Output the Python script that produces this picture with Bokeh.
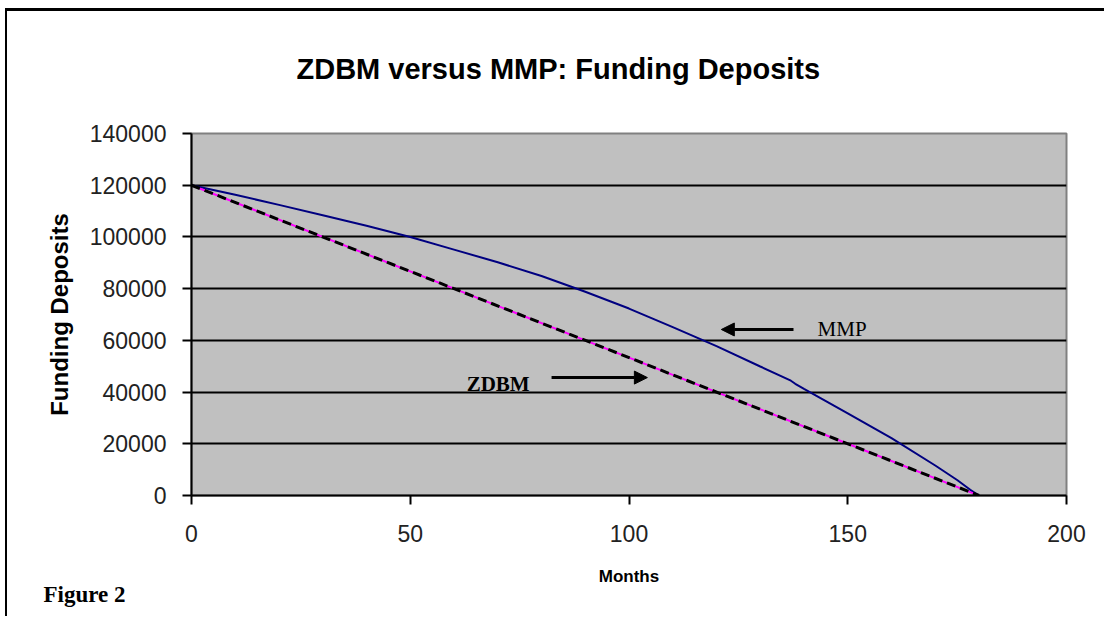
from bokeh.plotting import figure
from bokeh.models import (Range1d, FixedTicker, BasicTickFormatter, Label, Arrow,
                          NormalHead, Title)
from bokeh.embed import file_html
from bokeh.resources import INLINE

# ---- data ----
months_mmp = [0, 10, 20, 30, 40, 50, 60, 70, 80, 90, 100, 110, 120, 130, 137, 138,
              140, 150, 160, 170, 175, 178, 180]
mmp = [120000, 116300, 112400, 108400, 104300, 100000, 95100, 90200, 84900, 78800,
       72300, 65100, 57800, 49900, 44400, 43200, 41200, 31800, 22200, 11600, 6000, 2200, 0]
months_zdbm = [0, 30, 60, 90, 120, 150, 178, 180]
zdbm = [120000, 100000, 80000, 60000, 40000, 20000, 1300, 0]
zdbm_trend_x = [0, 180]
zdbm_trend_y = [120000, 0]
x_ticks = [0, 50, 100, 150, 200]
y_ticks = [0, 20000, 40000, 60000, 80000, 100000, 120000, 140000]

title_text = "ZDBM versus MMP: Funding Deposits"

p = figure(width=1104, height=616, output_backend="svg", toolbar_location=None,
           x_range=Range1d(0, 200), y_range=Range1d(0, 140000),
           min_border_left=191, min_border_right=38, min_border_top=133,
           min_border_bottom=121)
# chart-box edge (left and top) drawn behind the transparent border area
p.styles = {"box-shadow": "inset 5px 8px 0px 0px white, inset 7px 11px 0px 0px black"}

p.title.text = title_text
p.title.align = "left"
p.title.offset = 105
p.title.standoff = 98
p.title.text_font = "Liberation Sans"
p.title.text_font_style = "bold"
p.title.text_font_size = "29px"
p.title.text_color = "black"

p.background_fill_color = "#C0C0C0"
p.border_fill_color = None
p.outline_line_color = "#808080"
p.outline_line_width = 2

p.xgrid.visible = False
p.ygrid.grid_line_color = "black"
p.ygrid.grid_line_width = 2
p.ygrid.ticker = FixedTicker(ticks=y_ticks)

for ax in (p.xaxis[0], p.yaxis[0]):
    ax.axis_line_color = "black"
    ax.axis_line_width = 2
    ax.major_tick_line_color = "black"
    ax.major_tick_line_width = 2
    ax.major_tick_in = 0
    ax.major_tick_out = 9
    ax.minor_tick_line_color = None
    ax.major_label_text_font = "Liberation Sans"
    ax.major_label_text_font_size = "23px"
    ax.major_label_text_color = "#222222"
    ax.axis_label_text_font = "Liberation Sans"
    ax.axis_label_text_font_style = "bold"
    ax.axis_label_text_color = "black"

p.xaxis.ticker = FixedTicker(ticks=x_ticks)
p.yaxis.ticker = FixedTicker(ticks=y_ticks)
p.yaxis.formatter = BasicTickFormatter(use_scientific=False)
p.xaxis.major_label_standoff = 20
p.yaxis.major_label_standoff = 16
p.xaxis.axis_label = "Months"
p.yaxis.axis_label = "Funding Deposits"
p.xaxis.axis_label_text_font_size = "17px"
p.yaxis.axis_label_text_font_size = "24px"
p.xaxis.axis_label_standoff = 22
p.yaxis.axis_label_standoff = 14

p.add_layout(Title(text="Figure 2", align="left", offset=-148, standoff=-17,
                   text_font="Liberation Serif", text_font_style="bold",
                   text_font_size="23px", text_color="black"), "below")

# ---- series ----
p.line(months_mmp, mmp, line_color="#000080", line_width=2)
p.line(months_zdbm, zdbm, line_color="#FF00FF", line_width=2)
p.line(zdbm_trend_x, zdbm_trend_y, line_color="black", line_width=3, line_dash="9 5")

# ---- annotations ----
p.add_layout(Label(x=143.1, y=64200, text="MMP", text_align="left",
                   text_baseline="alphabetic", text_font="Liberation Serif",
                   text_font_size="21px", text_color="black"))
p.add_layout(Label(x=62.9, y=43300, text="ZDBM", text_align="left",
                   text_baseline="alphabetic", text_font="Liberation Serif",
                   text_font_style="bold", text_font_size="21px", text_color="black"))

p.add_layout(Arrow(x_start=137.6, y_start=64200, x_end=121.1, y_end=64200,
                   line_color="black", line_width=3,
                   end=NormalHead(size=13, fill_color="black", line_color="black")))
p.add_layout(Arrow(x_start=82.3, y_start=45600, x_end=104.2, y_end=45600,
                   line_color="black", line_width=3,
                   end=NormalHead(size=13, fill_color="black", line_color="black")))

open("out.html", "w").write(file_html(p, INLINE))
